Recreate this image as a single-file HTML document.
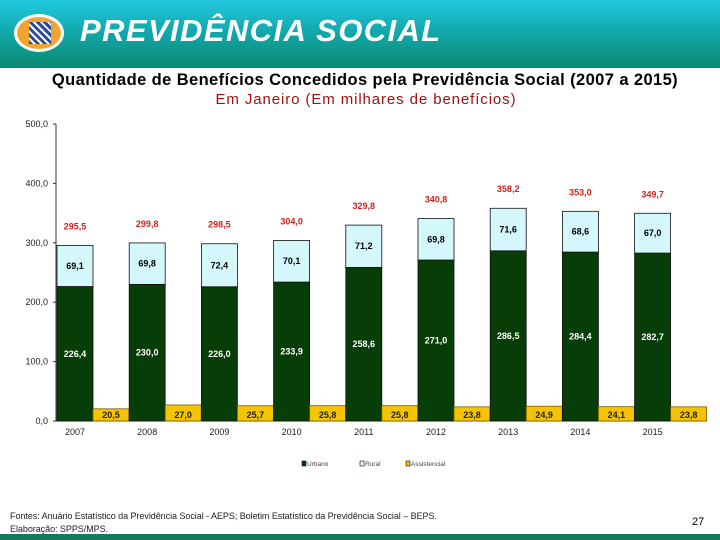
<!DOCTYPE html>
<html><head><meta charset="utf-8"><style>
body{margin:0;width:720px;height:540px;overflow:hidden;background:#fff;font-family:"Liberation Sans",sans-serif;position:relative}
#hdr{position:absolute;left:0;top:0;width:720px;height:68px;background:linear-gradient(#22c9df,#12a9ad 45%,#0b8a70)}
#hdr .t{position:absolute;left:80px;top:13px;color:#fff;font:italic bold 31px "Liberation Sans",sans-serif;letter-spacing:1.4px}
#logo{position:absolute;left:14px;top:14px;width:50px;height:38px;border-radius:50%;background:#f2a431;border:3px solid #fff;box-sizing:border-box}
#logo div{position:absolute;left:12px;top:5px;width:22px;height:22px;background:repeating-linear-gradient(45deg,#2a4aa0 0 3px,#fff 3px 5px)}
.title{position:absolute;left:0;width:720px;text-align:center}
#foot{position:absolute;left:0;top:534px;width:720px;height:6px;background:#137a5e}
.src{position:absolute;left:10px;font-size:9px;color:#222;letter-spacing:-0.05px}
</style></head><body>
<div id="hdr"><div id="logo"><div></div></div><div class="t">PREVIDÊNCIA SOCIAL</div></div>
<div class="title" style="top:71px;font-size:16.5px;font-weight:bold;color:#000;left:5px;letter-spacing:0.4px">Quantidade de Benefícios Concedidos pela Previdência Social (2007 a 2015)</div>
<div class="title" style="top:91px;font-size:15px;color:#a01010;left:6px;letter-spacing:0.9px">Em Janeiro (Em milhares de benefícios)</div>
<svg id="chart" width="720" height="540" style="position:absolute;left:0;top:0"></svg>
<div class="src" style="top:511px">Fontes: Anuário Estatístico da Previdência Social - AEPS; Boletim Estatístico da Previdência Social – BEPS.</div>
<div class="src" style="top:524px">Elaboração: SPPS/MPS.</div>
<div style="position:absolute;left:692px;top:516px;font-size:11px">27</div>
<div id="foot"></div>
<script>
const years=["2007","2008","2009","2010","2011","2012","2013","2014","2015"];
const urbano=[226.4,230.0,226.0,233.9,258.6,271.0,286.5,284.4,282.7];
const rural=[69.1,69.8,72.4,70.1,71.2,69.8,71.6,68.6,67.0];
const assist=[20.5,27.0,25.7,25.8,25.8,23.8,24.9,24.1,23.8];
const totals=[295.5,299.8,298.5,304.0,329.8,340.8,358.2,353.0,349.7];
const yTicks=[0,100,200,300,400,500];
const svg=document.getElementById('chart');const NS='http://www.w3.org/2000/svg';
const y0=421,k=297/500,x0=57,gw=72.2,bw=36;
const Y=v=>y0-v*k;const X=i=>x0+i*gw;
const fmt=v=>v.toFixed(1).replace('.',',');
function el(t,a,txt){const e=document.createElementNS(NS,t);for(const n in a)e.setAttribute(n,a[n]);if(txt!==undefined)e.textContent=txt;svg.appendChild(e);return e;}
let ax=el('line',{x1:56,y1:Y(0),x2:56,y2:Y(500),stroke:'#333','stroke-width':1});

let bx=el('line',{x1:56,y1:y0,x2:707,y2:y0,stroke:'#333','stroke-width':1});

yTicks.forEach(v=>{const t=el('text',{x:48,y:Y(v)+3,'text-anchor':'end','font-size':9,fill:'#222'},fmt(v));

el('line',{x1:53,x2:56,y1:Y(v),y2:Y(v),stroke:'#333'});});
years.forEach((yr,i)=>{const x=X(i);
const u=el('rect',{x:x,y:Y(urbano[i]),width:bw,height:urbano[i]*k,fill:'#073d07',stroke:'#111','stroke-width':0.8});

const r=el('rect',{x:x,y:Y(urbano[i]+rural[i]),width:bw,height:rural[i]*k,fill:'#d4f7fb',stroke:'#111','stroke-width':0.8});

const a=el('rect',{x:x+bw,y:Y(assist[i]),width:bw,height:assist[i]*k,fill:'#f5c400',stroke:'#7a5a00','stroke-width':0.8});

const cx=x+bw/2;
const t1=el('text',{x:cx,y:Y(urbano[i]/2)+3,'text-anchor':'middle','font-size':9,'font-weight':'bold',fill:'#fff'},fmt(urbano[i]));

const t2=el('text',{x:cx,y:Y(urbano[i]+rural[i]/2)+3,'text-anchor':'middle','font-size':9,'font-weight':'bold',fill:'#000'},fmt(rural[i]));

const t3=el('text',{x:cx+bw,y:y0-3,'text-anchor':'middle','font-size':9,'font-weight':'bold',fill:'#222'},fmt(assist[i]));

const t4=el('text',{x:cx,y:Y(totals[i])-16,'text-anchor':'middle','font-size':9,'font-weight':'bold',fill:'#d02020'},fmt(totals[i]));

const t5=el('text',{x:cx,y:y0+14,'text-anchor':'middle','font-size':9,fill:'#222'},yr);

});
const leg=[['Urbano','#073d07',302],['Rural','#d4f7fb',360],['Assistencial','#f5c400',406]];
leg.forEach(l=>{el('rect',{x:l[2],y:461,width:4,height:5,fill:l[1],stroke:'#111','stroke-width':0.6});
const t=el('text',{x:l[2]+5,y:466,'font-size':6.5,fill:'#444'},l[0]);
});
</script>
</body></html>
